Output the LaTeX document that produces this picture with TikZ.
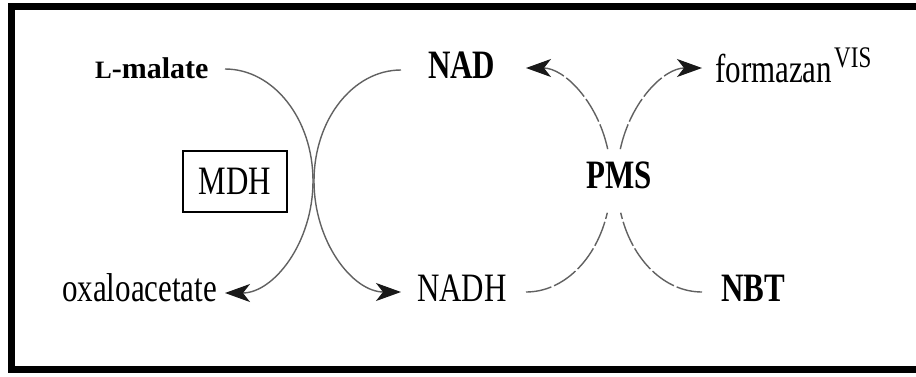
\documentclass[tikz,border=0pt]{standalone}
\usepackage{fontspec}
\usepackage{graphicx}
\setmainfont{Liberation Serif}
\usetikzlibrary{arrows.meta}
\newcommand{\vst}[1]{\scalebox{1}[1.3]{#1}}
\begin{document}
\begin{tikzpicture}[x=1pt,y=-1pt,
  >={Stealth[length=25pt,width=18pt,inset=7pt,color=black!90]},
  lbl/.style={inner sep=0pt, anchor=base west, font=\fontsize{31}{31}\selectfont},
  blbl/.style={lbl, font=\fontsize{31}{31}\selectfont\bfseries},
  solidarc/.style={draw=black!62, line width=1.4pt},
  dasharc/.style={solidarc, dash pattern=on 26pt off 3pt},
  frame/.style={line width=7.5pt, draw=black},
  ]
\useasboundingbox (0,0) rectangle (916,376);
\fill[white] (0,0) rectangle (916,376);
\draw[frame] (920,6.5) -- (11.5,6.5) -- (11.5,369.5) -- (920,369.5);

% labels
\node[blbl, font=\fontsize{30}{30}\selectfont\bfseries] (lmal) at (95,78) {{\fontsize{25}{25}\selectfont L}-malate};
\node[lbl] (oxa) at (62,301) {\vst{oxaloacetate}};
\node[blbl] (nad) at (428,78) {\vst{NAD}};
\node[lbl] (nadh) at (417,301) {\vst{NADH}};
\node[blbl] (pms) at (586,188) {\vst{PMS}};
\node[blbl] (nbt) at (721,301) {\vst{NBT}};
\node[lbl] (form) at (715,82) {\vst{formazan}\hspace{2pt}\raisebox{15pt}{\fontsize{23}{23}\selectfont\vst{VIS}}};
\node[draw, line width=1.3pt, minimum width=104pt, minimum height=61pt, inner sep=0pt,
      font=\fontsize{31}{31}\selectfont] (mdh) at (235,181.5) {\vst{MDH}};

% arc centres
\coordinate (c1) at (225,181);
\coordinate (c2) at (401,181);
\coordinate (c3) at (526,180);
\coordinate (c4) at (702,180);

% L-malate -> oxaloacetate
\draw[solidarc, ->] (c1) ++(-90:88 and 112) arc[start angle=-90, end angle=90, x radius=88, y radius=112];
% NAD -> NADH
\draw[solidarc, ->] (c2) ++(270:87 and 111) arc[start angle=270, end angle=90, x radius=87, y radius=111];
% NADH -> PMS -> NAD
\draw[dasharc] (c3) ++(90:85 and 112) arc[start angle=90, end angle=17, x radius=85, y radius=112];
\draw[dasharc, ->] (c3) ++(-16:85 and 112) arc[start angle=-16, end angle=-90, x radius=85, y radius=112];
% NBT -> PMS -> formazan
\draw[dasharc] (c4) ++(90:85 and 112) arc[start angle=90, end angle=163, x radius=85, y radius=112];
\draw[dasharc, ->] (c4) ++(196:85 and 112) arc[start angle=196, end angle=270, x radius=85, y radius=112];
\end{tikzpicture}
\end{document}
